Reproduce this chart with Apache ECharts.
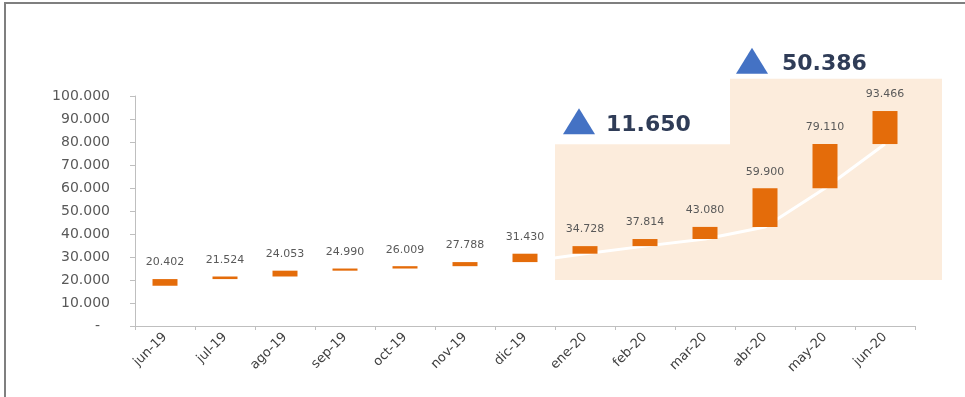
<!DOCTYPE html>
<html>
<head>
<meta charset="utf-8">
<script src="https://cdn.jsdelivr.net/npm/echarts@6/dist/echarts.min.js"></script>
<style>
  html, body { margin: 0; padding: 0; background: #ffffff; }
  #chart { width: 965px; height: 397px; }
</style>
</head>
<body>
<div id="chart"></div>
<script>
// ---- data ----
const categories = ['jun-19', 'jul-19', 'ago-19', 'sep-19', 'oct-19', 'nov-19', 'dic-19',
                    'ene-20', 'feb-20', 'mar-20', 'abr-20', 'may-20', 'jun-20'];
const totals = [20402, 21524, 24053, 24990, 26009, 27788, 31430,
                34728, 37814, 43080, 59900, 79110, 93466];
const startValue = 17500;            // bottom of the first floating bar (estimated)
const yTicks = { min: 0, max: 100000, interval: 10000 };
// highlighted periods: [startIndex (previous month), endIndex]
const periods = [[6, 9], [9, 12]];

// derived
const bases = [startValue].concat(totals.slice(0, -1));
const deltas = totals.map((v, i) => v - bases[i]);

function fmt(v) {
  return String(Math.round(v)).replace(/\B(?=(\d{3})+(?!\d))/g, '.');
}

const chart = echarts.init(document.getElementById('chart'));
const FONT = 'DejaVu Sans';

chart.setOption({
  animation: false,
  backgroundColor: '#ffffff',
  grid: { left: 135, right: 50, top: 96, bottom: 71 },
  xAxis: {
    type: 'category',
    data: categories,
    boundaryGap: true,
    axisLine: { show: true, lineStyle: { color: '#bfbfbf', width: 1 } },
    axisTick: { show: true, length: 4, lineStyle: { color: '#bfbfbf' } },
    axisLabel: {
      rotate: 45, margin: 9, color: '#404040',
      fontFamily: FONT, fontSize: 13, interval: 0
    },
    splitLine: { show: false }
  },
  yAxis: {
    type: 'value',
    min: yTicks.min, max: yTicks.max, interval: yTicks.interval,
    axisLine: { show: true, lineStyle: { color: '#bfbfbf', width: 1 } },
    axisTick: { show: true, length: 5, inside: false, lineStyle: { color: '#bfbfbf' } },
    splitLine: { show: false },
    axisLabel: {
      margin: 25, color: '#595959', fontFamily: FONT, fontSize: 14,
      formatter: v => v === 0 ? '{d|-}' : fmt(v),
      rich: { d: { padding: [0, 10, 0, 0], color: '#595959', fontFamily: FONT, fontSize: 14 } }
    }
  },
  series: [
    {
      type: 'line',
      data: bases,
      symbol: 'none',
      z: 1,
      lineStyle: { color: '#ffffff', width: 3 },
      silent: true
    },
    {
      type: 'bar',
      stack: 'wf',
      data: bases,
      barWidth: 25,
      itemStyle: { color: 'transparent' },
      silent: true,
      z: 2
    },
    {
      type: 'bar',
      stack: 'wf',
      data: deltas,
      barWidth: 25,
      z: 3,
      itemStyle: { color: '#e46c0a' },
      label: {
        show: true, position: 'top', distance: 11,
        color: '#595959', fontFamily: FONT, fontSize: 11,
        formatter: p => fmt(totals[p.dataIndex])
      }
    }
  ]
});

// decorations tied to the axes
function px(cat, val) {
  return chart.convertToPixel({ xAxisIndex: 0, yAxisIndex: 0 }, [cat, val]);
}
const band = px(categories[1], 0)[0] - px(categories[0], 0)[0];
const yBottom = px(categories[0], 20000)[1];
const rect1Top = px(categories[0], 79000)[1];
const rect2Top = px(categories[0], 107500)[1];
const x0 = px(categories[periods[0][0] + 1], 0)[0] - band / 2;
const x1 = px(categories[periods[1][0] + 1], 0)[0] - band / 2 - 5;
const x2 = px(categories[periods[1][1]], 0)[0] + band / 2 + 27;

const inc1 = totals[periods[0][1]] - totals[periods[0][0]];
const inc2 = totals[periods[1][1]] - totals[periods[1][0]];

function triangle(left, bottom) {
  return {
    type: 'polygon', z: 10,
    shape: { points: [[left, bottom], [left + 32, bottom], [left + 16, bottom - 26]] },
    style: { fill: '#4472c4' }
  };
}
function label(left, cy, txt) {
  return {
    type: 'text', z: 10, x: left, y: cy,
    style: {
      text: txt, fill: '#2f3c57', font: 'bold 22px "DejaVu Sans"',
      textVerticalAlign: 'middle', verticalAlign: 'middle'
    }
  };
}

chart.setOption({
  graphic: [
    { type: 'rect', z: -10, shape: { x: x0, y: rect1Top, width: x1 - x0, height: yBottom - rect1Top },
      style: { fill: '#fcecdc' }, silent: true },
    { type: 'rect', z: -10, shape: { x: x1, y: rect2Top, width: x2 - x1, height: yBottom - rect2Top },
      style: { fill: '#fcecdc' }, silent: true },
    triangle(x0 + 8, rect1Top - 10),
    label(x0 + 51, rect1Top - 19, fmt(inc1)),
    triangle(x1 + 6, rect2Top - 5),
    label(x1 + 52, rect2Top - 14, fmt(inc2)),
    { type: 'line', z: 20, shape: { x1: 4, y1: 3, x2: 965, y2: 3 },
      style: { stroke: '#7f7f7f', lineWidth: 2 }, silent: true },
    { type: 'line', z: 20, shape: { x1: 5, y1: 3, x2: 5, y2: 397 },
      style: { stroke: '#7f7f7f', lineWidth: 2 }, silent: true }
  ]
});
</script>
</body>
</html>
